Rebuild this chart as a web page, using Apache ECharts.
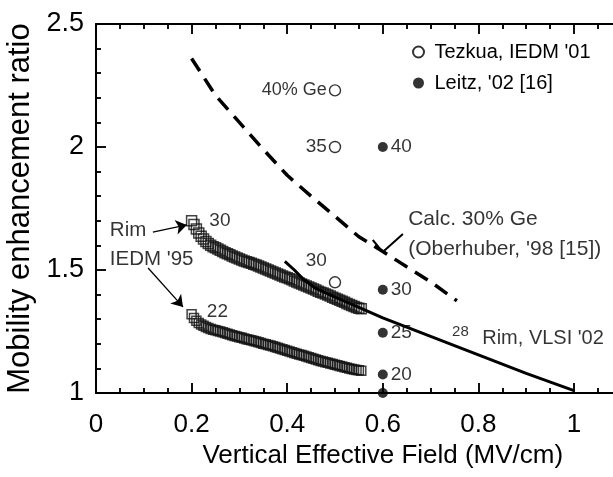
<!DOCTYPE html>
<html>
<head>
<meta charset="utf-8">
<script src="https://cdn.jsdelivr.net/npm/echarts@6/dist/echarts.min.js"></script>
<style>
  html, body { margin: 0; padding: 0; background: #fff; }
  #chart { width: 613px; height: 477px; }
</style>
</head>
<body>
<div id="chart"></div>
<script>
// Hole mobility enhancement of strained SiGe/Si channels vs. vertical effective field

const FONT = "'Liberation Sans', Arial, Helvetica, sans-serif";
const INK = '#000';

// axis ticks
const fieldTicks = [0, 0.2, 0.4, 0.6, 0.8, 1];
const fieldTickLabels = ['0', '0.2', '0.4', '0.6', '0.8', '1'];
const fieldMinorStep = 0.05;
const ratioTicks = [1, 1.5, 2, 2.5];
const ratioTickLabels = ['1', '1.5', '2', '2.5'];
const ratioMinorStep = 0.1;

// Rim, IEDM '95 (open squares), sampled along the measured field sweep
const rim95Field = [
  0.200, 0.205, 0.210, 0.215, 0.220, 0.225, 0.230, 0.235, 0.240, 0.245,
  0.250, 0.255, 0.260, 0.265, 0.270, 0.275, 0.280, 0.285, 0.290, 0.295,
  0.300, 0.305, 0.310, 0.315, 0.320, 0.325, 0.330, 0.335, 0.340, 0.345,
  0.350, 0.355, 0.360, 0.365, 0.370, 0.375, 0.380, 0.385, 0.390, 0.395,
  0.400, 0.405, 0.410, 0.415, 0.420, 0.425, 0.430, 0.435, 0.440, 0.445,
  0.450, 0.455, 0.460, 0.465, 0.470, 0.475, 0.480, 0.485, 0.490, 0.495,
  0.500, 0.505, 0.510, 0.515, 0.520, 0.525, 0.530, 0.535, 0.540, 0.545,
  0.550, 0.555];
// 30% Ge
const rim95Ge30 = [
  1.700, 1.685, 1.667, 1.650, 1.637, 1.626, 1.616, 1.608, 1.601, 1.595,
  1.590, 1.585, 1.580, 1.575, 1.570, 1.566, 1.562, 1.557, 1.553, 1.549,
  1.545, 1.541, 1.537, 1.534, 1.530, 1.527, 1.523, 1.520, 1.516, 1.512,
  1.508, 1.504, 1.500, 1.496, 1.492, 1.488, 1.484, 1.480, 1.476, 1.472,
  1.468, 1.464, 1.460, 1.455, 1.451, 1.447, 1.443, 1.439, 1.435, 1.431,
  1.427, 1.423, 1.419, 1.414, 1.410, 1.406, 1.402, 1.398, 1.394, 1.389,
  1.385, 1.381, 1.377, 1.373, 1.369, 1.364, 1.360, 1.356, 1.352, 1.348,
  1.345, 1.342];
// 22% Ge
const rim95Ge22 = [
  1.320, 1.305, 1.294, 1.285, 1.278, 1.273, 1.268, 1.264, 1.260, 1.257,
  1.255, 1.252, 1.250, 1.247, 1.244, 1.241, 1.238, 1.235, 1.232, 1.230,
  1.227, 1.225, 1.222, 1.219, 1.216, 1.214, 1.211, 1.209, 1.206, 1.203,
  1.200, 1.198, 1.195, 1.193, 1.190, 1.187, 1.184, 1.181, 1.178, 1.175,
  1.172, 1.169, 1.166, 1.163, 1.160, 1.157, 1.154, 1.151, 1.148, 1.145,
  1.142, 1.139, 1.136, 1.133, 1.130, 1.128, 1.125, 1.123, 1.120, 1.118,
  1.115, 1.113, 1.110, 1.108, 1.105, 1.103, 1.100, 1.098, 1.096, 1.094,
  1.092, 1.090];

// Rim, VLSI '02, 28% Ge (solid line)
const rim02Field = [0.395, 0.415, 0.435, 0.46, 0.50, 0.55, 0.60, 0.70, 0.80, 0.90, 1.00];
const rim02Ratio = [1.535, 1.500, 1.460, 1.425, 1.390, 1.348, 1.305, 1.230, 1.155, 1.080, 1.010];

// Calc. 30% Ge, Oberhuber '98 (dashed line)
const calcField = [0.20, 0.25, 0.30, 0.35, 0.40, 0.45, 0.50, 0.55, 0.60, 0.65, 0.70, 0.755];
const calcRatio = [2.36, 2.21, 2.10, 1.99, 1.885, 1.80, 1.718, 1.635, 1.575, 1.513, 1.452, 1.375];

// Tezkua, IEDM '01 (open circles) and Ge content
const tezkuaField = [0.5, 0.5, 0.5];
const tezkuaRatio = [2.23, 2.00, 1.45];
const tezkuaGe = ['40% Ge', '35', '30'];

// Leitz, '02 [16] (filled circles) and Ge content
const leitzField = [0.6, 0.6, 0.6, 0.6, 0.6];
const leitzRatio = [2.00, 1.42, 1.245, 1.075, 1.00];
const leitzGe = ['40', '30', '25', '20', ''];

// free text notes
const noteField = [0.029, 0.029, 0.653, 0.653, 0.745, 0.808];
const noteRatio = [1.663, 1.545, 1.706, 1.585, 1.248, 1.220];
const noteText = ['Rim', "IEDM '95", 'Calc. 30% Ge', "(Oberhuber, '98 [15])", '28', "Rim, VLSI '02"];
const noteSize = [20.5, 20.5, 21, 21, 15, 20];

// arrows from the "Rim IEDM '95" note to the two square curves
const arrowFrom = [[0.119, 1.654], [0.109, 1.508]];
const arrowTo = [[0.190, 1.683], [0.182, 1.350]];

// leader tick from the calculation note to the dashed curve
const leaderField = [0.579, 0.600, 0.642];
const leaderRatio = [1.622, 1.573, 1.646];

const X_RANGE = { min: 0, max: 1.2 };
const Y_RANGE = { min: 1, max: 2.5 };

const zip = (xs, ys) => xs.map((x, i) => [x, ys[i]]);
const isOn = (v, list) => list.some(t => Math.abs(t - v) < 1e-9);

// inward frame ticks as short segments, lengths in axis units (about 10 px major, 5 px minor)
const FIELD_TICK_LEN = { major: 0.0407, minor: 0.0203 };   // measured along the ratio axis
const RATIO_TICK_LEN = { major: 0.0209, minor: 0.0105 };   // measured along the field axis
const tickSegments = [];
for (let i = 0; i * fieldMinorStep <= 1.1 + 1e-9; i++) {
  const v = +(i * fieldMinorStep).toFixed(2);
  const len = isOn(v, fieldTicks) ? FIELD_TICK_LEN.major : FIELD_TICK_LEN.minor;
  tickSegments.push([[v, Y_RANGE.min], [v, Y_RANGE.min + len]]);
  tickSegments.push([[v, Y_RANGE.max], [v, Y_RANGE.max - len]]);
}
for (let i = 0; Y_RANGE.min + i * ratioMinorStep <= Y_RANGE.max + 1e-9; i++) {
  const v = +(Y_RANGE.min + i * ratioMinorStep).toFixed(2);
  const len = isOn(v, ratioTicks) ? RATIO_TICK_LEN.major : RATIO_TICK_LEN.minor;
  tickSegments.push([[X_RANGE.min, v], [X_RANGE.min + len, v]]);
}

const squareStyle = { color: 'rgba(0,0,0,0)', borderColor: '#111', borderWidth: 1.5 };

const squareData = (ys, firstLabel, dist, dy) => zip(rim95Field, ys).map((p, i) => {
  if (i !== 0) return p;
  return {
    value: p,
    label: {
      show: true, position: 'right', distance: dist, offset: [0, dy],
      formatter: firstLabel, fontFamily: FONT, fontSize: 19, color: INK
    }
  };
});

const tezkuaData = zip(tezkuaField, tezkuaRatio).map((p, i) => ({
  value: p,
  label: {
    show: true, position: 'left', distance: 2,
    offset: i === 2 ? [0, -22] : [0, 0],
    formatter: tezkuaGe[i], fontFamily: FONT, fontSize: i === 0 ? 18 : 19, color: INK
  }
}));

const leitzData = zip(leitzField, leitzRatio).map((p, i) => ({
  value: p,
  label: {
    show: leitzGe[i] !== '', position: 'right', distance: 3,
    formatter: leitzGe[i], fontFamily: FONT, fontSize: 19, color: INK
  }
}));

const noteData = noteField.map((x, i) => ({
  value: [x, noteRatio[i]],
  label: {
    show: true, position: 'right', distance: 0,
    formatter: noteText[i], fontFamily: FONT, fontSize: noteSize[i], color: INK
  }
}));

// marker lines: the two arrows plus the frame ticks (ticks carry no end symbols)
const markerLines = arrowFrom.map((a, i) => [{ coord: a }, { coord: arrowTo[i] }])
  .concat(tickSegments.map(s => [
    { coord: s[0], symbol: 'none', lineStyle: { width: 1.5 } },
    { coord: s[1], symbol: 'none' }
  ]));

const axisLineStyle = { show: true, onZero: false, lineStyle: { color: INK, width: 2 } };

const chart = echarts.init(document.getElementById('chart'), null, { renderer: 'canvas' });

chart.setOption({
  animation: false,
  backgroundColor: '#fff',
  grid: { left: 96, top: 24, width: 1.2 * 478, height: 369, containLabel: false, outerBoundsMode: 'none' },
  legend: {
    orient: 'vertical', left: 407, top: 37, itemGap: 11,
    itemWidth: 22, itemHeight: 11, icon: 'circle',
    textStyle: { fontFamily: FONT, fontSize: 20, color: INK },
    data: ["Tezkua, IEDM '01", "Leitz, '02 [16]"]
  },
  xAxis: [
    Object.assign({}, X_RANGE, {
      type: 'value', interval: 0.2, position: 'bottom',
      splitLine: { show: false },
      axisLine: axisLineStyle, axisTick: { show: false },
      name: 'Vertical Effective Field (MV/cm)', nameLocation: 'middle', nameGap: 50,
      nameTextStyle: { fontFamily: FONT, fontSize: 26, color: INK },
      axisLabel: {
        margin: 19, fontFamily: FONT, fontSize: 26, color: INK,
        formatter: v => {
          const i = fieldTicks.findIndex(t => Math.abs(t - v) < 1e-9);
          return i < 0 ? '' : fieldTickLabels[i];
        }
      }
    }),
    Object.assign({}, X_RANGE, {
      type: 'value', interval: 0.2, position: 'top',
      splitLine: { show: false },
      axisLine: axisLineStyle, axisTick: { show: false }, axisLabel: { show: false }
    })
  ],
  yAxis: [
    Object.assign({}, Y_RANGE, {
      type: 'value', interval: 0.5, position: 'left',
      splitLine: { show: false },
      axisLine: axisLineStyle, axisTick: { show: false },
      name: 'Mobility enhancement ratio', nameLocation: 'middle', nameGap: 58, nameRotate: 90,
      nameTextStyle: { fontFamily: FONT, fontSize: 31, color: INK },
      axisLabel: {
        margin: 12, fontFamily: FONT, fontSize: 27, color: INK,
        formatter: v => {
          const i = ratioTicks.findIndex(t => Math.abs(t - v) < 1e-9);
          return i < 0 ? '' : ratioTickLabels[i];
        }
      }
    })
  ],
  series: [
    {
      name: 'Rim IEDM95 30', type: 'scatter', symbol: 'rect', symbolSize: 10,
      itemStyle: squareStyle, data: squareData(rim95Ge30, '30', 12, 0), z: 3
    },
    {
      name: 'Rim IEDM95 22', type: 'scatter', symbol: 'rect', symbolSize: 9,
      itemStyle: squareStyle, data: squareData(rim95Ge22, '22', 10, -3), z: 3
    },
    {
      name: 'Rim VLSI02', type: 'line', symbol: 'none',
      lineStyle: { color: INK, width: 3 }, data: zip(rim02Field, rim02Ratio), z: 4
    },
    {
      name: 'Calc 30% Ge', type: 'line', symbol: 'none',
      lineStyle: { color: INK, width: 3.5, type: [15, 9] }, data: zip(calcField, calcRatio), z: 4
    },
    {
      name: 'leader', type: 'line', symbol: 'none',
      lineStyle: { color: INK, width: 2 }, data: zip(leaderField, leaderRatio), z: 4
    },
    {
      name: "Tezkua, IEDM '01", type: 'scatter', symbol: 'circle', symbolSize: 11,
      itemStyle: { color: '#fff', borderColor: INK, borderWidth: 1.4 }, data: tezkuaData, z: 5
    },
    {
      name: "Leitz, '02 [16]", type: 'scatter', symbol: 'circle', symbolSize: 10,
      itemStyle: { color: INK }, data: leitzData, z: 5
    },
    {
      name: 'frame ticks', type: 'lines', coordinateSystem: 'cartesian2d',
      polyline: false, silent: true, z: 6,
      lineStyle: { color: INK, width: 1.5, opacity: 1, curveness: 0 },
      data: tickSegments.map(s => ({ coords: s }))
    },
    {
      name: 'notes', type: 'scatter', symbolSize: 0, data: noteData, z: 6,
      silent: true,
      markLine: {
        silent: true, symbol: ['none', 'arrow'], symbolSize: 11,
        label: { show: false },
        lineStyle: { color: INK, width: 1.3, type: 'solid' },
        data: markerLines
      }
    }
  ]
});
</script>
</body>
</html>
